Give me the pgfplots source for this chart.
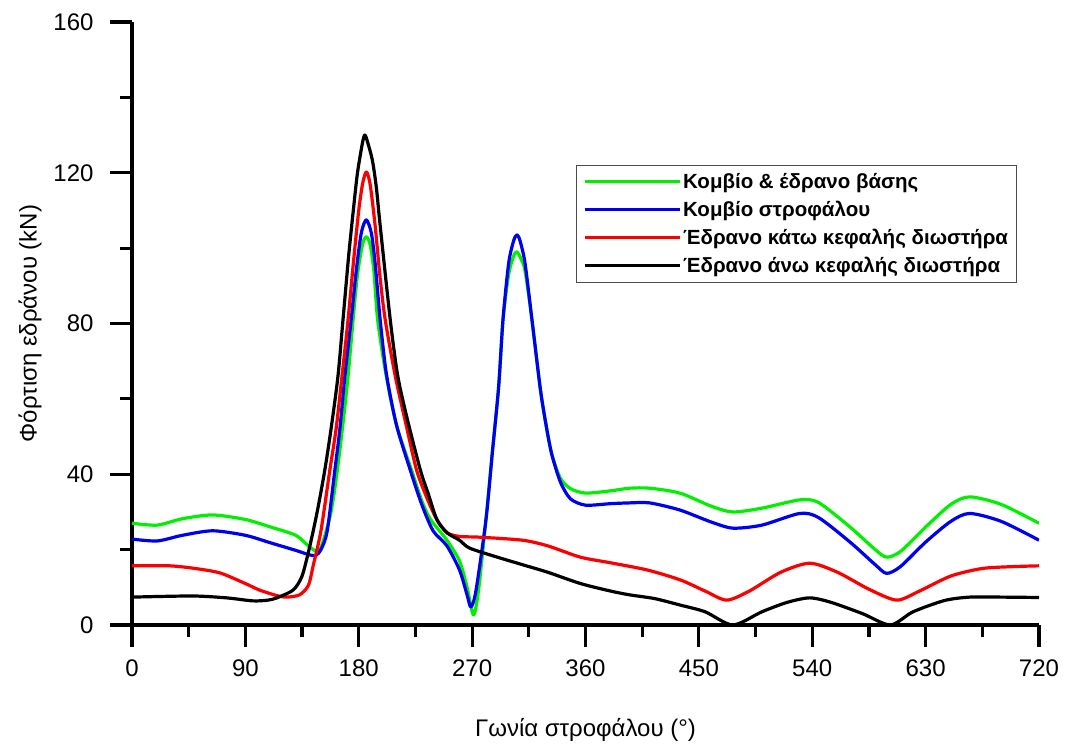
\documentclass[border=0pt]{standalone}
\usepackage{pgfplots}
\pgfplotsset{compat=1.18}
\usepackage{fontspec}
\setmainfont{Liberation Sans}
\definecolor{cgreen}{RGB}{0,240,0}
\definecolor{cblue}{RGB}{0,0,240}
\definecolor{cred}{RGB}{250,0,0}
\begin{document}
\begin{tikzpicture}
\useasboundingbox (-132pt,-122pt) rectangle (934pt,625pt);
\begin{axis}[
  scale only axis, width=907pt, height=603pt,
  xmin=0, xmax=720, ymin=0, ymax=160,
  axis x line=bottom, axis y line=left,
  axis line style={-, line width=3.2pt},
  every tick/.append style={black, line width=3.2pt},
  every major tick/.append style={line width=3.2pt},
  every minor tick/.append style={line width=3.2pt},
  tick align=outside, xtick align=outside, ytick align=outside,
  major tick length=22pt, minor tick length=12pt,
  xtick={0,90,...,720}, minor x tick num=1,
  ytick={0,40,...,160}, minor y tick num=1,
  /pgf/number format/assume math mode=true,
  ticklabel style={font=\fontsize{24}{28}\selectfont},
  xticklabel style={yshift=-9pt},
  yticklabel style={xshift=-13pt},
  label style={font=\fontsize{24}{28}\selectfont},
  xlabel={Γωνία στροφάλου (°)},
  ylabel={Φόρτιση εδράνου (kN)},
  xlabel style={at={(0.5,0)}, anchor=center, yshift=-105pt},
  ylabel style={at={(0,0.5)}, anchor=center, yshift=102pt},
  legend style={at={(0.49,0.763)}, anchor=north west, draw=black!70, line width=1pt,
    font=\fontsize{20.5}{27}\bfseries\selectfont, cells={anchor=west},
    inner xsep=6pt, inner ysep=6pt, row sep=7.2pt},
  legend image code/.code={\draw[#1] (0pt,0pt) -- (95pt,0pt);},
  every axis plot/.append style={line width=3.2pt, line join=round, smooth, tension=0.45},
]
\addplot[cgreen] coordinates {
(0,27.0)(20,26.5)(40,28.2)(64,29.2)(90,28.0)(110,26.0)(130,23.8)(141,20.7)(148,19.5)
(152,22.5)(158,30)(163,41)(168,55)(171.5,66)(175.5,81)(179,93)(183,101)(186,103)
(189,101)(192,94)(195,81)(201.6,66.5)(210,53)(222,41)(230,33)(237,28)(250,22.5)
(260,17)(266,10)(271,2.7)(275,9)(281,28)(286,45.6)(291,63)(294.5,81)(299,93)
(303,98)(305.6,99)(309,97)(312,94)(317.5,81)(324,63)(328,54.4)(333,45.6)(340,39)
(348,36.2)(360,35)(380,35.6)(395,36.3)(411,36.3)(435,35)(460,31.5)(477,30)(500,31)
(530,33.2)(545,32.5)(570,26)(590,20)(599,18)(610,19.5)(630,26)(650,32)(665,34)
(690,32)(720,27)
};
\addlegendentry{Κομβίο \& έδρανο βάσης}
\addplot[cblue] coordinates {
(0,22.8)(20,22.3)(40,23.8)(64,25)(90,23.8)(110,21.8)(130,19.8)(141,18.6)(146,18.5)
(150,20)(155,25)(161,41)(165,52)(169,66)(174,81)(178,94)(182,104)(186,107.5)
(190,104)(193,96)(197,81)(202,66.5)(210,53)(221,41)(230,32)(239,25)(250,21)
(260,14.6)(266,8)(269,4.8)(273,9)(281,28)(286,45.6)(291,63)(294.5,81)(299,96)
(303,102)(305.6,103.5)(308,102)(312,96)(317.5,81)(324,63)(328,54.4)(333,45.6)
(340,38)(348,33.5)(360,31.8)(380,32.2)(395,32.4)(411,32.4)(435,30.5)(460,27.3)
(477,25.7)(500,26.5)(530,29.6)(545,28.5)(570,22)(590,16)(599,13.7)(610,15.5)
(630,22)(650,27.5)(665,29.6)(690,27.5)(720,22.5)
};
\addlegendentry{Κομβίο στροφάλου}
\addplot[cred] coordinates {
(0,15.7)(30,15.7)(50,15.0)(70,13.8)(90,11)(101,9.3)(115,7.8)(123,7.4)(133,8)
(140,10.5)(144,16)(150,25)(157,41)(162,52)(166.7,66)(171.5,81)(176,97)(180,110)
(183,117)(186,120.2)(189,117)(193,106)(197,92)(201,81)(209,66)(217,54)(226,41)
(235,33)(242,28)(250,24.5)(260,23.5)(276,23.3)(310,22.5)(330,21)(356,18)(380,16.5)
(409,14.6)(435,12)(455,9)(472,6.6)(490,9)(515,14)(538,16.4)(560,14)(585,9.5)
(607,6.6)(625,9)(650,13)(675,15)(700,15.5)(720,15.7)
};
\addlegendentry{Έδρανο κάτω κεφαλής διωστήρα}
\addplot[black] coordinates {
(0,7.4)(48,7.7)(75,7.2)(96,6.4)(108,6.6)(115,7.2)(128,9.3)(135,13)(141,20.7)
(147,30)(153,41)(158,52)(163.5,66)(167.5,81)(172,98)(176,111)(179,120)(183,128)
(185,130)(188,127)(191,123)(194,116)(197,106)(205,81)(211,66)(219,54)(229,41)
(235,35)(242,28)(250,24.5)(260,22.5)(268,20.4)(290,18)(310,16)(330,14)(356,11)
(380,9)(395,8)(415,7)(435,5.3)(455,3.5)(477,0)(500,3.5)(520,6)(538,7.2)(555,6)
(580,3)(602,0)(620,3.5)(645,6.5)(665,7.4)(690,7.4)(720,7.3)
};
\addlegendentry{Έδρανο άνω κεφαλής διωστήρα}
\end{axis}
\end{tikzpicture}
\end{document}
